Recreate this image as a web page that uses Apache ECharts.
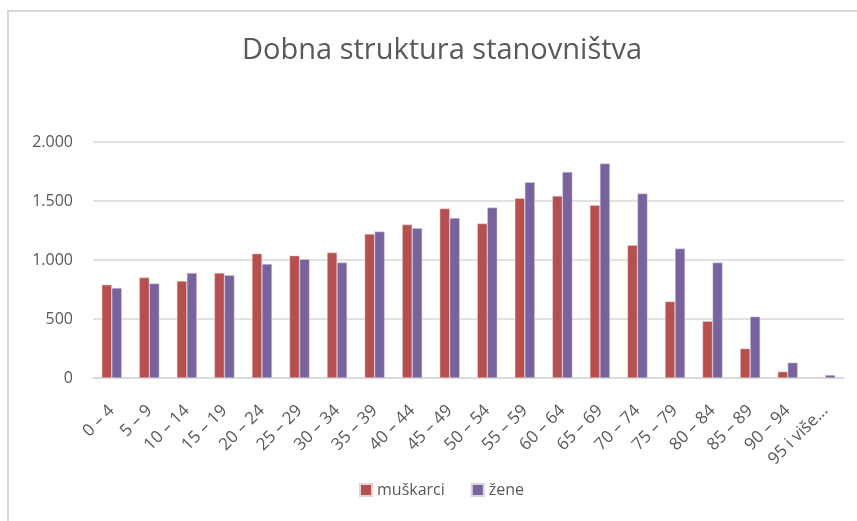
<!DOCTYPE html>
<html>
<head>
<meta charset="utf-8">
<script src="https://cdn.jsdelivr.net/npm/echarts@6/dist/echarts.min.js"></script>
<style>
  html, body { margin: 0; padding: 0; background: #fff; }
  #chart { width: 857px; height: 521px; }
</style>
</head>
<body>
<div id="chart"></div>
<script>
// dobne skupine
const categories = [
  "0 – 4", "5 – 9", "10 – 14", "15 – 19", "20 – 24", "25 – 29", "30 – 34",
  "35 – 39", "40 – 44", "45 – 49", "50 – 54", "55 – 59", "60 – 64", "65 – 69",
  "70 – 74", "75 – 79", "80 – 84", "85 – 89", "90 – 94", "95 i više..."
];
const muskarci = [791, 851, 822, 890, 1054, 1037, 1063, 1220, 1300, 1436,
  1309, 1523, 1543, 1464, 1125, 648, 481, 249, 54, 3];
const zene = [763, 800, 890, 870, 966, 1006, 978, 1241, 1269, 1356,
  1444, 1659, 1746, 1817, 1563, 1097, 978, 520, 130, 25];

const chart = echarts.init(document.getElementById("chart"));
const textColor = "#595959";
const font = "'Open Sans', sans-serif";

const option = {
  animation: false,
  title: {
    text: "Dobna struktura stanovništva",
    left: 237,
    top: 31,
    textStyle: { color: textColor, fontSize: 29, fontWeight: 400, fontFamily: font },
  },
  // okvir grafikona
  graphic: [
    {
      type: "rect",
      shape: { x: 8, y: 11, width: 900, height: 600 },
      style: { fill: "none", stroke: "#d9d9d9", lineWidth: 2 },
      silent: true,
    },
  ],
  legend: {
    bottom: 18,
    left: 354,
    itemWidth: 12,
    itemHeight: 12,
    itemGap: 26,
    icon: "rect",
    textStyle: { color: textColor, fontSize: 16, fontFamily: font },
    data: ["muškarci", "žene"],
  },
  grid: { left: 93, right: 13, top: 142, bottom: 143 },
  xAxis: {
    type: "category",
    data: categories,
    axisLine: { show: true, lineStyle: { color: "#d9d9d9", width: 1.5 } },
    axisTick: { show: false },
    axisLabel: {
      rotate: 45,
      interval: 0,
      color: textColor,
      fontSize: 17,
      fontFamily: font,
      margin: 30,
    },
  },
  yAxis: {
    type: "value",
    min: 0,
    max: 2000,
    interval: 500,
    axisLine: { show: false },
    axisTick: { show: false },
    splitLine: { lineStyle: { color: "#d9d9d9", width: 1.5 } },
    axisLabel: {
      color: textColor,
      fontSize: 16,
      fontFamily: font,
      margin: 20,
      formatter: (v) => v.toString().replace(/\B(?=(\d{3})+(?!\d))/g, "."),
    },
  },
  series: [
    {
      name: "muškarci",
      type: "bar",
      data: muskarci,
      barWidth: 10,
      barGap: "0%",
      itemStyle: { color: "#b5504f", borderColor: "#e9d0d0", borderWidth: 0.5 },
    },
    {
      name: "žene",
      type: "bar",
      data: zene,
      barWidth: 10,
      itemStyle: { color: "#78639c", borderColor: "#d9d1e6", borderWidth: 0.5 },
    },
  ],
};

chart.setOption(option);
</script>
</body>
</html>
